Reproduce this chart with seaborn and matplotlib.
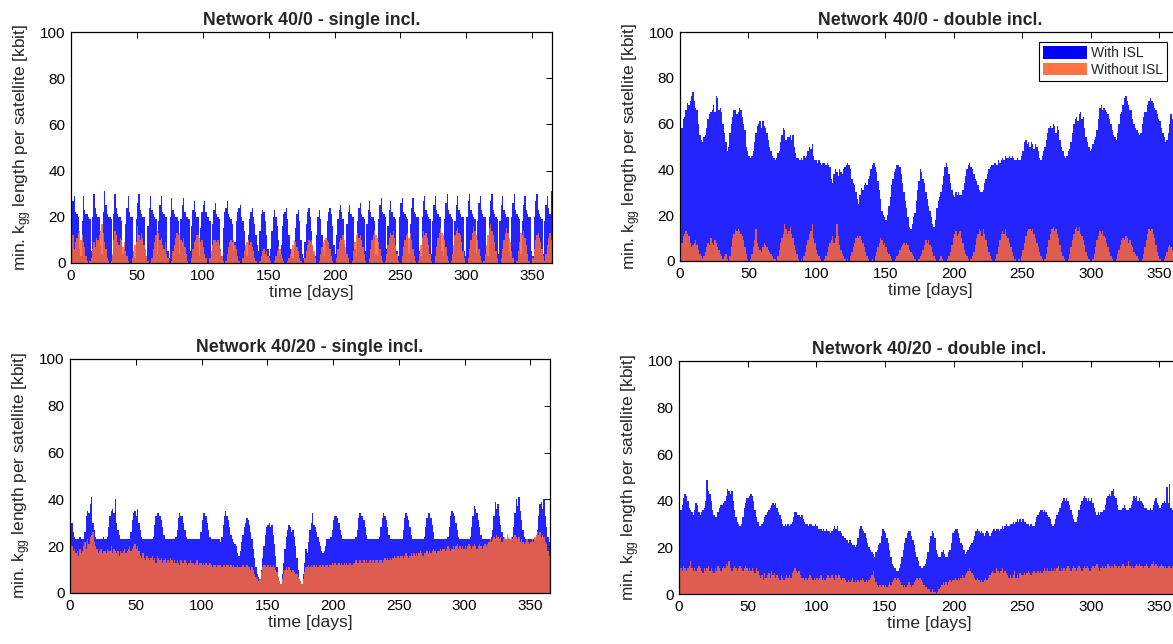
import numpy as np
import matplotlib
matplotlib.use("Agg")
import matplotlib.pyplot as plt
import seaborn as sns
from matplotlib.patches import Patch

# ---------------- data (daily values, kbit) ----------------
p1_with = [
    24, 27, 29, 22, 21, 20, 6, 3, 18, 29,
    23, 21, 21, 20, 19, 5, 20, 30, 24, 21,
    20, 20, 8, 4, 22, 31, 25, 21, 20, 20,
    19, 3, 21, 30, 24, 21, 20, 20, 18, 4,
    6, 17, 24, 29, 22, 20, 20, 5, 2, 19,
    26, 30, 23, 21, 20, 20, 6, 3, 16, 24,
    29, 23, 21, 20, 19, 4, 18, 25, 29, 22,
    21, 20, 20, 5, 2, 20, 28, 23, 21, 20,
    20, 18, 4, 19, 25, 28, 22, 20, 20, 19,
    5, 16, 23, 27, 22, 20, 20, 3, 15, 22,
    25, 27, 22, 20, 20, 18, 4, 17, 23, 26,
    21, 20, 19, 6, 3, 15, 22, 24, 27, 21,
    20, 19, 17, 5, 9, 18, 22, 24, 25, 20,
    18, 14, 7, 3, 12, 19, 22, 24, 20, 17,
    12, 8, 5, 14, 21, 23, 22, 18, 12, 6,
    3, 6, 14, 20, 23, 20, 16, 10, 4, 8,
    16, 21, 22, 24, 19, 12, 6, 3, 2, 7,
    15, 21, 23, 18, 10, 4, 2, 9, 17, 22,
    24, 20, 14, 8, 4, 3, 12, 20, 23, 19,
    12, 5, 3, 10, 18, 22, 24, 21, 16, 8,
    4, 12, 19, 23, 25, 22, 19, 8, 4, 17,
    22, 25, 21, 20, 20, 6, 3, 18, 24, 26,
    21, 20, 19, 5, 17, 23, 27, 22, 20, 20,
    18, 4, 3, 19, 25, 28, 22, 21, 20, 6,
    16, 23, 27, 22, 20, 20, 19, 5, 3, 20,
    26, 28, 22, 21, 20, 19, 4, 17, 24, 28,
    22, 21, 20, 20, 5, 3, 20, 27, 29, 23,
    21, 20, 19, 4, 18, 25, 29, 23, 21, 20,
    20, 5, 3, 19, 26, 30, 23, 21, 20, 19,
    4, 18, 25, 29, 23, 21, 20, 20, 5, 3,
    20, 27, 30, 23, 21, 20, 19, 4, 18, 26,
    29, 23, 21, 20, 20, 5, 3, 20, 27, 30,
    23, 21, 20, 19, 4, 18, 25, 29, 23, 21,
    20, 20, 5, 3, 20, 26, 30, 23, 21, 20,
    19, 4, 18, 25, 29, 23, 21, 20, 20, 5,
    3, 20, 27, 30, 23, 21, 20, 19, 4, 18,
    25, 29, 24, 21, 31,
]
p1_without = [
    8, 12, 6, 9, 11, 13, 14, 10, 12, 9,
    7, 3, 1, 0, 1, 2, 6, 9, 7, 11,
    10, 12, 14, 17, 13, 9, 6, 2, 1, 0,
    1, 4, 10, 14, 12, 9, 8, 11, 10, 7,
    9, 5, 3, 1, 0, 0, 2, 5, 8, 9,
    16, 12, 10, 13, 11, 8, 6, 3, 1, 0,
    0, 2, 6, 9, 12, 14, 13, 10, 11, 8,
    6, 9, 4, 2, 0, 0, 1, 5, 8, 11,
    13, 12, 13, 10, 9, 11, 7, 4, 1, 0,
    0, 2, 6, 9, 10, 12, 12, 11, 9, 10,
    7, 4, 2, 0, 0, 2, 5, 8, 10, 10,
    9, 10, 8, 6, 3, 1, 0, 1, 4, 7,
    9, 10, 9, 10, 8, 6, 3, 1, 0, 0,
    2, 5, 8, 9, 10, 8, 9, 7, 5, 2,
    1, 0, 0, 1, 3, 5, 6, 4, 5, 3,
    2, 1, 0, 0, 1, 3, 5, 7, 6, 4,
    2, 1, 0, 0, 1, 2, 4, 6, 8, 10,
    9, 7, 5, 2, 1, 0, 0, 2, 5, 8,
    10, 9, 10, 8, 5, 2, 0, 0, 1, 4,
    7, 9, 10, 11, 10, 9, 6, 3, 1, 0,
    0, 2, 6, 9, 11, 10, 12, 10, 7, 4,
    2, 0, 0, 1, 5, 9, 12, 13, 11, 12,
    10, 7, 4, 1, 0, 0, 2, 6, 10, 12,
    14, 12, 11, 9, 6, 3, 1, 0, 1, 4,
    8, 11, 13, 12, 14, 11, 8, 4, 1, 0,
    0, 3, 7, 10, 12, 13, 11, 13, 10, 6,
    3, 1, 0, 1, 4, 8, 11, 14, 12, 13,
    11, 8, 4, 1, 0, 0, 3, 7, 11, 13,
    15, 13, 12, 10, 7, 3, 1, 0, 1, 4,
    8, 12, 14, 15, 13, 12, 9, 5, 2, 0,
    0, 2, 6, 10, 13, 16, 14, 12, 10, 6,
    3, 1, 0, 1, 4, 8, 12, 15, 17, 14,
    12, 9, 5, 2, 0, 0, 2, 6, 10, 13,
    15, 13, 11, 9, 5, 2, 0, 0, 1, 5,
    9, 13, 12, 14, 11, 8, 4, 1, 0, 0,
    2, 6, 10, 12, 13, 11, 9, 6, 3, 1,
    4, 8, 11, 13, 10,
]
p2_with = [
    55, 58, 62, 63, 66, 69, 68, 70, 72, 74,
    70, 67, 66, 60, 55, 53, 52, 54, 55, 58,
    62, 64, 65, 66, 68, 65, 72, 71, 66, 67,
    65, 60, 56, 52, 48, 50, 56, 60, 63, 66,
    66, 64, 65, 67, 66, 63, 60, 57, 50, 48,
    46, 45, 46, 48, 52, 56, 59, 60, 61, 58,
    61, 59, 58, 56, 53, 50, 48, 46, 45, 44,
    45, 47, 48, 52, 55, 58, 57, 53, 54, 54,
    55, 53, 55, 50, 47, 45, 45, 44, 45, 44,
    46, 45, 46, 48, 50, 49, 51, 46, 44, 44,
    43, 44, 43, 42, 43, 43, 42, 43, 42, 41,
    36, 34, 38, 40, 39, 37, 40, 39, 38, 40,
    41, 42, 43, 42, 40, 36, 34, 33, 30, 27,
    25, 29, 32, 31, 33, 34, 33, 36, 37, 40,
    42, 43, 41, 39, 35, 31, 27, 22, 20, 19,
    18, 20, 24, 28, 33, 36, 39, 40, 42, 42,
    41, 38, 34, 30, 26, 23, 19, 15, 14, 16,
    19, 21, 26, 31, 35, 40, 39, 36, 34, 30,
    27, 24, 22, 19, 16, 15, 18, 23, 26, 28,
    30, 33, 37, 41, 43, 41, 38, 34, 31, 29,
    28, 30, 29, 30, 29, 29, 31, 34, 37, 40,
    42, 43, 41, 40, 38, 36, 35, 33, 31, 30,
    30, 31, 34, 36, 38, 40, 41, 42, 42, 43,
    43, 42, 44, 43, 44, 45, 44, 46, 45, 45,
    46, 45, 46, 45, 44, 44, 45, 44, 44, 46,
    48, 52, 53, 51, 52, 50, 52, 51, 49, 51,
    50, 48, 45, 44, 46, 48, 50, 53, 56, 58,
    59, 58, 60, 59, 56, 59, 57, 53, 50, 48,
    46, 45, 46, 48, 49, 52, 56, 60, 62, 63,
    61, 64, 65, 62, 63, 58, 54, 52, 50, 48,
    49, 51, 53, 54, 57, 62, 67, 68, 66, 67,
    66, 65, 64, 62, 60, 57, 55, 54, 53, 56,
    60, 64, 65, 68, 71, 72, 70, 68, 66, 66,
    62, 60, 58, 57, 56, 55, 56, 60, 63, 65,
    65, 68, 70, 71, 70, 69, 67, 66, 64, 62,
    61, 58, 56, 54, 52, 53, 56, 60, 64, 62,
    65, 66, 63, 60, 58,
]
p2_without = [
    5, 8, 11, 12, 13, 12, 11, 8, 6, 7,
    8, 9, 7, 5, 3, 2, 1, 2, 4, 6,
    8, 7, 10, 8, 7, 9, 8, 6, 5, 3,
    2, 1, 2, 3, 1, 0, 2, 6, 10, 12,
    14, 13, 14, 13, 12, 11, 9, 6, 3, 1,
    0, 1, 3, 6, 9, 14, 8, 6, 5, 4,
    6, 8, 7, 6, 5, 4, 3, 2, 1, 1,
    0, 2, 5, 8, 10, 12, 16, 14, 12, 13,
    15, 12, 10, 7, 5, 3, 1, 0, 1, 0,
    2, 4, 7, 9, 12, 13, 16, 10, 8, 5,
    3, 2, 1, 0, 0, 1, 2, 4, 6, 8,
    9, 11, 8, 10, 16, 11, 7, 5, 3, 2,
    1, 0, 1, 0, 2, 4, 6, 8, 10, 11,
    10, 11, 9, 8, 6, 4, 2, 1, 0, 0,
    1, 0, 2, 4, 6, 8, 10, 9, 7, 8,
    6, 4, 3, 2, 1, 0, 0, 1, 2, 3,
    5, 6, 7, 8, 7, 8, 7, 5, 4, 3,
    2, 1, 0, 0, 1, 2, 3, 5, 7, 9,
    8, 9, 7, 6, 4, 2, 1, 0, 0, 1,
    2, 1, 0, 0, 0, 1, 2, 4, 7, 10,
    12, 13, 11, 12, 13, 10, 8, 5, 3, 2,
    1, 0, 1, 2, 4, 7, 10, 12, 14, 13,
    11, 14, 12, 9, 6, 4, 2, 1, 0, 0,
    1, 3, 6, 9, 12, 13, 12, 14, 11, 10,
    8, 6, 4, 2, 1, 0, 0, 1, 0, 2,
    5, 8, 11, 13, 14, 14, 13, 14, 12, 10,
    8, 6, 4, 2, 1, 0, 1, 3, 6, 9,
    12, 14, 15, 13, 14, 12, 10, 7, 4, 2,
    1, 0, 0, 1, 3, 6, 9, 12, 14, 15,
    13, 15, 12, 11, 9, 7, 4, 2, 1, 0,
    0, 1, 3, 6, 9, 11, 13, 12, 13, 11,
    10, 8, 6, 4, 2, 1, 0, 0, 1, 3,
    5, 7, 9, 10, 9, 11, 10, 8, 9, 7,
    6, 4, 3, 2, 1, 0, 0, 1, 3, 6,
    9, 12, 14, 13, 14, 12, 10, 7, 4, 2,
    1, 0, 0, 1, 2, 4, 6, 7, 6, 5,
    7, 6, 5, 6, 4,
]
p3_with = [
    36, 30, 26, 24, 23, 23, 23, 24, 23, 23,
    23, 26, 33, 35, 34, 38, 41, 30, 27, 24,
    23, 23, 23, 23, 23, 24, 23, 23, 24, 28,
    33, 35, 36, 34, 40, 30, 27, 25, 23, 23,
    23, 23, 23, 23, 23, 23, 26, 31, 34, 35,
    33, 36, 30, 27, 24, 23, 23, 23, 23, 23,
    23, 23, 23, 24, 29, 33, 34, 34, 33, 31,
    28, 25, 23, 23, 23, 23, 23, 23, 23, 23,
    24, 27, 32, 34, 33, 33, 30, 27, 24, 23,
    23, 23, 23, 23, 23, 23, 23, 23, 23, 26,
    31, 34, 34, 33, 30, 27, 24, 23, 23, 23,
    23, 23, 23, 23, 22, 24, 29, 33, 35, 33,
    31, 28, 25, 23, 22, 21, 20, 17, 16, 18,
    22, 25, 28, 30, 32, 31, 29, 26, 23, 19,
    15, 11, 8, 7, 6, 10, 15, 20, 25, 28,
    29, 30, 28, 29, 25, 21, 16, 11, 7, 5,
    4, 8, 13, 19, 24, 27, 29, 28, 26, 27,
    24, 20, 15, 10, 6, 5, 4, 8, 13, 19,
    17, 22, 27, 30, 34, 29, 28, 26, 24, 22,
    20, 18, 17, 18, 20, 23, 23, 23, 24, 27,
    31, 33, 33, 32, 30, 27, 25, 23, 23, 23,
    23, 23, 23, 23, 23, 23, 23, 24, 27, 32,
    34, 33, 33, 31, 28, 25, 23, 23, 23, 23,
    23, 23, 23, 23, 23, 24, 28, 32, 34, 33,
    31, 28, 25, 23, 23, 23, 23, 23, 23, 23,
    23, 23, 23, 27, 32, 34, 33, 31, 28, 25,
    23, 23, 23, 23, 23, 23, 23, 23, 23, 24,
    28, 32, 34, 34, 32, 29, 26, 23, 23, 23,
    23, 23, 23, 23, 23, 23, 23, 24, 28, 33,
    35, 34, 33, 30, 27, 24, 23, 23, 23, 23,
    23, 23, 23, 23, 24, 28, 33, 37, 36, 34,
    31, 28, 25, 23, 23, 23, 23, 23, 23, 23,
    24, 27, 33, 39, 36, 38, 33, 29, 26, 24,
    23, 23, 23, 23, 23, 23, 24, 28, 34, 40,
    37, 41, 35, 31, 27, 24, 23, 23, 23, 23,
    23, 23, 23, 23, 24, 27, 33, 38, 39, 36,
    40, 33, 28, 24, 22,
]
p3_without = [
    25, 20, 18, 19, 17, 18, 16, 19, 17, 18,
    20, 22, 19, 23, 21, 24, 25, 26, 22, 20,
    19, 17, 18, 19, 17, 18, 18, 17, 19, 18,
    18, 20, 17, 19, 18, 17, 18, 16, 18, 17,
    18, 19, 17, 18, 19, 20, 18, 19, 20, 21,
    19, 20, 18, 16, 15, 17, 15, 14, 16, 15,
    14, 15, 16, 14, 15, 13, 16, 15, 14, 15,
    13, 14, 15, 13, 14, 13, 15, 14, 13, 14,
    13, 14, 13, 12, 14, 13, 13, 14, 13, 12,
    13, 14, 13, 13, 12, 13, 14, 12, 13, 13,
    12, 13, 12, 13, 12, 12, 13, 12, 11, 12,
    12, 11, 12, 12, 12, 11, 12, 12, 11, 12,
    12, 11, 12, 11, 12, 11, 11, 12, 11, 11,
    11, 12, 11, 11, 12, 11, 11, 10, 11, 10,
    8, 7, 6, 5, 6, 9, 11, 12, 12, 11,
    12, 11, 12, 11, 12, 11, 10, 9, 7, 5,
    4, 6, 8, 10, 11, 10, 11, 10, 9, 10,
    9, 8, 8, 7, 6, 5, 4, 6, 9, 11,
    11, 12, 11, 12, 11, 12, 11, 12, 11, 12,
    12, 11, 12, 11, 12, 12, 11, 12, 12, 13,
    12, 13, 12, 12, 13, 12, 13, 12, 13, 12,
    13, 12, 13, 13, 12, 13, 13, 14, 13, 13,
    14, 13, 13, 14, 13, 14, 13, 14, 14, 13,
    14, 13, 14, 14, 13, 14, 14, 13, 14, 15,
    14, 15, 14, 15, 14, 15, 16, 15, 15, 16,
    15, 16, 16, 15, 16, 17, 16, 15, 16, 17,
    16, 17, 16, 17, 16, 17, 18, 17, 16, 17,
    17, 18, 17, 18, 17, 18, 19, 18, 17, 18,
    18, 19, 18, 19, 19, 18, 19, 20, 19, 18,
    19, 20, 19, 20, 21, 19, 20, 19, 20, 19,
    20, 19, 20, 21, 20, 19, 20, 21, 20, 19,
    20, 21, 20, 19, 20, 21, 20, 21, 22, 23,
    22, 23, 24, 23, 25, 24, 23, 24, 22, 23,
    24, 23, 25, 24, 23, 24, 23, 24, 25, 24,
    23, 24, 22, 23, 22, 21, 22, 23, 22, 21,
    22, 23, 22, 24, 25, 26, 25, 26, 24, 25,
    24, 22, 21, 18, 16,
]
p4_with = [
    30, 36, 38, 41, 43, 42, 40, 37, 36, 35,
    34, 36, 39, 38, 35, 34, 35, 36, 37, 40,
    49, 44, 43, 40, 36, 34, 33, 33, 35, 37,
    38, 38, 39, 40, 42, 45, 44, 43, 44, 40,
    36, 33, 31, 30, 29, 30, 33, 37, 39, 41,
    41, 42, 43, 42, 40, 36, 33, 31, 29, 29,
    30, 31, 33, 34, 35, 36, 37, 38, 39, 38,
    39, 37, 35, 34, 32, 30, 29, 30, 29, 30,
    29, 30, 31, 33, 35, 35, 34, 34, 33, 34,
    32, 31, 30, 30, 29, 30, 30, 29, 29, 30,
    29, 28, 28, 28, 27, 28, 27, 28, 27, 27,
    26, 27, 28, 29, 28, 29, 27, 27, 26, 25,
    24, 24, 23, 22, 23, 22, 21, 21, 20, 21,
    24, 28, 29, 28, 27, 26, 24, 22, 20, 19,
    18, 17, 16, 18, 19, 21, 22, 25, 28, 27,
    26, 24, 22, 19, 16, 13, 12, 11, 10, 10,
    11, 13, 16, 19, 22, 24, 26, 27, 27, 25,
    23, 21, 18, 16, 14, 12, 11, 11, 12, 13,
    15, 18, 22, 25, 27, 26, 24, 19, 17, 16,
    16, 18, 19, 17, 16, 16, 18, 19, 22, 26,
    27, 28, 28, 26, 24, 22, 21, 19, 17, 18,
    19, 20, 21, 22, 23, 25, 27, 28, 27, 26,
    27, 26, 25, 26, 27, 26, 25, 26, 27, 28,
    27, 28, 28, 27, 28, 29, 28, 29, 30, 29,
    29, 30, 30, 31, 30, 31, 32, 31, 32, 31,
    32, 31, 31, 30, 30, 29, 30, 29, 29, 31,
    33, 34, 35, 36, 36, 35, 36, 35, 34, 33,
    32, 30, 29, 30, 32, 34, 35, 37, 39, 40,
    41, 40, 41, 40, 38, 36, 34, 32, 31, 31,
    33, 36, 38, 40, 41, 42, 41, 40, 41, 40,
    41, 39, 37, 35, 34, 35, 34, 35, 35, 36,
    38, 41, 42, 43, 42, 44, 45, 42, 41, 38,
    36, 36, 36, 37, 38, 37, 36, 36, 37, 38,
    40, 42, 41, 42, 40, 41, 40, 39, 38, 37,
    37, 36, 36, 37, 36, 38, 40, 41, 39, 38,
    37, 38, 39, 40, 39, 46, 39, 47, 37, 36,
    38, 40, 42, 41, 39,
]
p4_without = [
    10, 11, 10, 12, 11, 10, 11, 12, 14, 11,
    10, 11, 10, 11, 12, 11, 10, 9, 11, 10,
    11, 12, 10, 11, 10, 9, 11, 10, 12, 11,
    10, 11, 12, 11, 13, 12, 14, 11, 10, 11,
    12, 11, 10, 11, 12, 11, 10, 11, 12, 11,
    10, 11, 10, 11, 10, 9, 11, 10, 8, 7,
    8, 6, 9, 7, 8, 9, 7, 10, 8, 9,
    7, 8, 7, 6, 8, 7, 6, 7, 8, 7,
    8, 7, 9, 10, 11, 10, 9, 10, 8, 7,
    7, 6, 7, 6, 7, 8, 7, 6, 7, 6,
    7, 6, 7, 8, 6, 7, 6, 7, 8, 7,
    7, 8, 7, 6, 8, 7, 8, 7, 6, 7,
    7, 6, 5, 6, 5, 6, 7, 5, 6, 5,
    6, 5, 6, 7, 6, 5, 6, 5, 6, 7,
    8, 10, 7, 5, 4, 3, 4, 3, 4, 3,
    4, 3, 4, 5, 4, 5, 6, 7, 6, 7,
    6, 5, 4, 3, 4, 3, 4, 5, 4, 3,
    4, 5, 6, 7, 6, 7, 6, 5, 4, 3,
    3, 2, 2, 1, 2, 1, 1, 0, 1, 2,
    3, 4, 5, 4, 5, 4, 5, 6, 5, 6,
    6, 7, 6, 7, 6, 7, 8, 7, 8, 9,
    10, 11, 10, 9, 8, 7, 6, 7, 6, 5,
    6, 5, 6, 7, 6, 7, 8, 9, 10, 9,
    9, 11, 10, 9, 10, 11, 9, 10, 9, 8,
    7, 8, 7, 8, 10, 7, 8, 7, 9, 8,
    8, 9, 8, 9, 10, 9, 8, 9, 10, 9,
    9, 10, 9, 10, 9, 10, 11, 10, 11, 10,
    10, 11, 10, 11, 10, 11, 12, 10, 11, 10,
    11, 10, 11, 12, 11, 10, 11, 12, 11, 10,
    11, 12, 11, 10, 11, 12, 11, 12, 11, 10,
    11, 12, 11, 12, 13, 11, 10, 11, 12, 11,
    12, 11, 13, 12, 11, 12, 11, 13, 12, 11,
    12, 11, 12, 13, 12, 11, 12, 14, 12, 11,
    12, 11, 12, 13, 12, 13, 12, 12, 11, 12,
    13, 12, 11, 12, 13, 14, 12, 13, 12, 11,
    12, 13, 12, 11, 12, 11, 12, 12, 11, 12,
    11, 12, 13, 12, 11,
]

titles = [
    "Network 40/0 - single incl.",
    "Network 40/0 - double incl.",
    "Network 40/20 - single incl.",
    "Network 40/20 - double incl.",
]
series_labels = ["With ISL", "Without ISL"]
x_ticks = [0, 50, 100, 150, 200, 250, 300, 350]
y_ticks = [0, 20, 40, 60, 80, 100]
x_label = "time [days]"
y_label = "min. k$_{\\mathrm{gg}}$ length per satellite [kbit]"

panels = [(p1_with, p1_without), (p2_with, p2_without),
          (p3_with, p3_without), (p4_with, p4_without)]
for i, (a, b) in enumerate(panels):
    assert len(a) == 365, (i, "with", len(a))
    assert len(b) == 365, (i, "without", len(b))

# ---------------- style ----------------
sns.set_style("white")
plt.rcParams["font.family"] = ["Liberation Sans", "DejaVu Sans"]
plt.rcParams["mathtext.fontset"] = "custom"
plt.rcParams["mathtext.rm"] = "Liberation Sans"
plt.rcParams["mathtext.it"] = "Liberation Sans:italic"

BLUE = "#0000ff"
ORANGE = "#ff6633"
BLUE_ALPHA = 0.86
ORANGE_ALPHA = 0.86

W, H = 1173, 644
fig = plt.figure(figsize=(W / 100, H / 100), dpi=100)
fig.patch.set_facecolor("white")

# axes boxes in pixels: left, top, right, bottom
boxes = [(71, 32, 552, 263), (680, 32, 1180, 261),
         (70, 359, 550, 593), (679, 361, 1180, 594)]

days = np.arange(365) + 0.5

axes = []
for k, ((l, t, r, b), (with_isl, without_isl)) in enumerate(zip(boxes, panels)):
    ax = fig.add_axes([l / W, (H - b) / H, (r - l) / W, (b - t) / H])
    sns.barplot(x=days, y=np.array(with_isl, float), native_scale=True,
                width=1.0, color=BLUE, saturation=1, errorbar=None,
                linewidth=0, alpha=BLUE_ALPHA, ax=ax)
    sns.barplot(x=days, y=np.array(without_isl, float), native_scale=True,
                width=1.0, color=ORANGE, saturation=1, errorbar=None,
                linewidth=0, alpha=ORANGE_ALPHA, ax=ax)
    ax.set_xlim(0, 365)
    ax.set_ylim(0, 100)
    ax.set_xticks(x_ticks)
    ax.set_xticklabels([str(v) for v in x_ticks])
    ax.set_yticks(y_ticks)
    ax.set_yticklabels([str(v) for v in y_ticks])
    ax.tick_params(direction="in", length=4, width=0.7, top=True, right=True,
                   labelsize=11, colors="black", pad=4)
    for sp in ax.spines.values():
        sp.set_visible(True)
        sp.set_color("black")
        sp.set_linewidth(0.9)
        sp.set_zorder(5)
    ax.set_title(titles[k], fontsize=12.8, fontweight="bold", pad=5)
    ax.set_xlabel(x_label, fontsize=12.6, labelpad=2)
    ax.set_ylabel(y_label, fontsize=12.4, labelpad=4)
    ax.set_facecolor("white")
    axes.append(ax)

handles = [Patch(facecolor=BLUE, edgecolor="none"),
           Patch(facecolor=ORANGE, edgecolor="none", alpha=0.92)]
leg = axes[1].legend(handles, series_labels, loc="upper right",
                     bbox_to_anchor=(1167 / W, 1 - 42 / H),
                     bbox_transform=fig.transFigure, fontsize=10,
                     frameon=True, fancybox=False, framealpha=1,
                     edgecolor="black", handlelength=3.2, handleheight=1.0,
                     handletextpad=0.25, borderpad=0.3, labelspacing=0.2,
                     borderaxespad=0)
leg.get_frame().set_linewidth(0.8)

fig.savefig("out.png", dpi=100, facecolor="white")
